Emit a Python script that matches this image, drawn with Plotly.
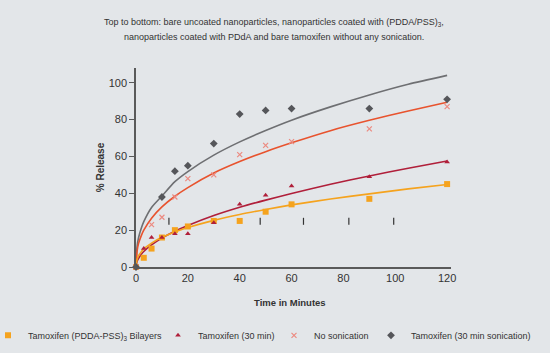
import plotly.graph_objects as go

# ---- data ----
time_pts = [0, 3, 6, 10, 15, 20, 30, 40, 50, 60, 90, 120]
bilayers = [0, 5, 10, 16, 20, 22, 25, 25, 30, 34, 37, 45]
tam30_time = [0, 3, 6, 10, 15, 20, 30, 40, 50, 60, 90, 120]
tam30 = [0, 10, 16, 16, 18, 18, 24, 34, 39, 44, 49, 57]
nosonic_time = [0, 6, 10, 15, 20, 30, 40, 50, 60, 90, 120]
nosonic = [0, 23, 27, 38, 48, 50, 61, 66, 68, 75, 87]
sonic_time = [0, 10, 15, 20, 30, 40, 50, 60, 90, 120]
sonic = [0, 38, 52, 55, 67, 83, 85, 86, 86, 91]

# fitted trend curves
fit_x = [0, 0.4, 1, 2, 3, 6, 10, 15, 20, 30, 40, 50, 60, 75, 90, 105, 120]
fit_bilayers = [0, 4.0, 6.2, 8.2, 9.8, 13.0, 16.1, 19.0, 21.4, 25.3, 28.5, 31.2, 33.7, 36.9, 39.7, 42.4, 44.8]
fit_tam30 = [0, 3.0, 4.7, 6.8, 8.4, 12.0, 15.7, 19.4, 22.5, 27.9, 32.4, 36.3, 39.9, 44.9, 49.4, 53.6, 57.5]
fit_nosonic = [0, 8.5, 12.8, 16.9, 20.0, 26.5, 32.6, 38.4, 43.1, 51.0, 57.2, 62.6, 67.4, 74.0, 79.6, 84.7, 89.4]
fit_sonic = [0, 11.0, 16.0, 20.9, 24.6, 32.3, 38.5, 46.3, 51.8, 60.7, 67.9, 74.1, 79.7, 86.9, 93.4, 99.2, 104.0]

# small stray tick marks visible inside the plot
mark_x = [12.7, 47.9, 64.6, 82.1, 99.4]
mark_y = [24.8, 24.8, 24.8, 24.8, 24.8]

x_ticks = [0, 20, 40, 60, 80, 100, 120]
y_ticks = [0, 20, 40, 60, 80, 100]

BG = "#e3e6e9"
FONT = "Liberation Sans Narrow, Liberation Sans, Arial, sans-serif"
TXT = "#333333"

c_bil = "#f5a31e"
c_tam = "#b01f3a"
c_nos = "#e8532e"
c_nos_m = "#ec8a80"
c_son = "#6e6f72"
c_son_m = "#55565a"

# plot-area geometry (pixels)
L, R, T, B = 136, 99, 68, 86
W = 550 - L - R
H = 353 - T - B


def px_x(p):
    return (p - L) / W


def px_y(p):
    return (353 - B - p) / H


fig = go.Figure()

for fx, fy, col in [(fit_x, fit_sonic, c_son), (fit_x, fit_nosonic, c_nos),
                    (fit_x, fit_tam30, c_tam), (fit_x, fit_bilayers, c_bil)]:
    fig.add_trace(go.Scatter(x=fx, y=fy, mode="lines", showlegend=False,
                             line=dict(color=col, width=1.6, shape="spline", smoothing=0.6),
                             hoverinfo="skip", cliponaxis=False))

fig.add_trace(go.Scatter(x=mark_x, y=mark_y, mode="markers", showlegend=False,
                         marker=dict(symbol="line-ns", size=5,
                                     line=dict(color=TXT, width=1.2)),
                         hoverinfo="skip"))

fig.add_trace(go.Scatter(x=time_pts, y=bilayers, mode="markers", legend="legend",
                         name="Tamoxifen (PDDA-PSS)<sub>3</sub> Bilayers",
                         marker=dict(symbol="square", size=6, color=c_bil), cliponaxis=False))
fig.add_trace(go.Scatter(x=tam30_time, y=tam30, mode="markers", legend="legend2",
                         name="Tamoxifen (30 min)",
                         marker=dict(symbol="triangle-up", size=5, color=c_tam), cliponaxis=False))
fig.add_trace(go.Scatter(x=nosonic_time, y=nosonic, mode="markers", legend="legend3",
                         name="No sonication",
                         marker=dict(symbol="x-thin", size=5, line=dict(color=c_nos_m, width=1.2),
                                     color=c_nos_m), cliponaxis=False))
fig.add_trace(go.Scatter(x=sonic_time, y=sonic, mode="markers", legend="legend4",
                         name="Tamoxifen (30 min sonication)",
                         marker=dict(symbol="diamond", size=6, color=c_son_m), cliponaxis=False))


def leg(start_px):
    return dict(orientation="h", xref="paper", yref="container",
                x=px_x(start_px), xanchor="left", y=0.05, yanchor="middle",
                bgcolor="rgba(0,0,0,0)", font=dict(family=FONT, size=9, color=TXT),
                itemwidth=30)


fig.update_layout(
    width=550, height=353,
    paper_bgcolor=BG, plot_bgcolor=BG,
    margin=dict(l=L, r=R, t=T, b=B, autoexpand=False),
    font=dict(family=FONT, size=10, color=TXT),
    showlegend=True,
    legend=leg(-12), legend2=leg(158), legend3=leg(274), legend4=leg(371),
    xaxis=dict(range=[0, 121.5], tickvals=x_ticks, ticks="", showgrid=False, zeroline=False,
               showline=True, linecolor="#5a5a5a", linewidth=1.5,
               tickfont=dict(size=11, color=TXT)),
    yaxis=dict(range=[0, 108], tickvals=y_ticks, ticks="outside", ticklen=5, tickwidth=1,
               tickcolor="#5a5a5a", showgrid=False, zeroline=False,
               showline=True, linecolor="#5a5a5a", linewidth=1.5,
               tickfont=dict(size=11, color=TXT),
               title=dict(text="<b>% Release</b>", font=dict(size=10, color=TXT),
                          standoff=2)),
    annotations=[
        dict(text="Top to bottom: bare uncoated nanoparticles, nanoparticles coated with (PDDA/PSS)<sub>3</sub>,",
             xref="paper", yref="paper", x=px_x(274), y=px_y(22),
             xanchor="center", yanchor="middle", showarrow=False,
             font=dict(family=FONT, size=9, color=TXT)),
        dict(text="nanoparticles coated with PDdA and bare tamoxifen without any sonication.",
             xref="paper", yref="paper", x=px_x(274), y=px_y(37),
             xanchor="center", yanchor="middle", showarrow=False,
             font=dict(family=FONT, size=9, color=TXT)),
        dict(text="<b>Time in Minutes</b>",
             xref="paper", yref="paper", x=px_x(290), y=px_y(302),
             xanchor="center", yanchor="middle", showarrow=False,
             font=dict(family=FONT, size=9.5, color=TXT)),
    ],
)

fig.write_html("out.html")
